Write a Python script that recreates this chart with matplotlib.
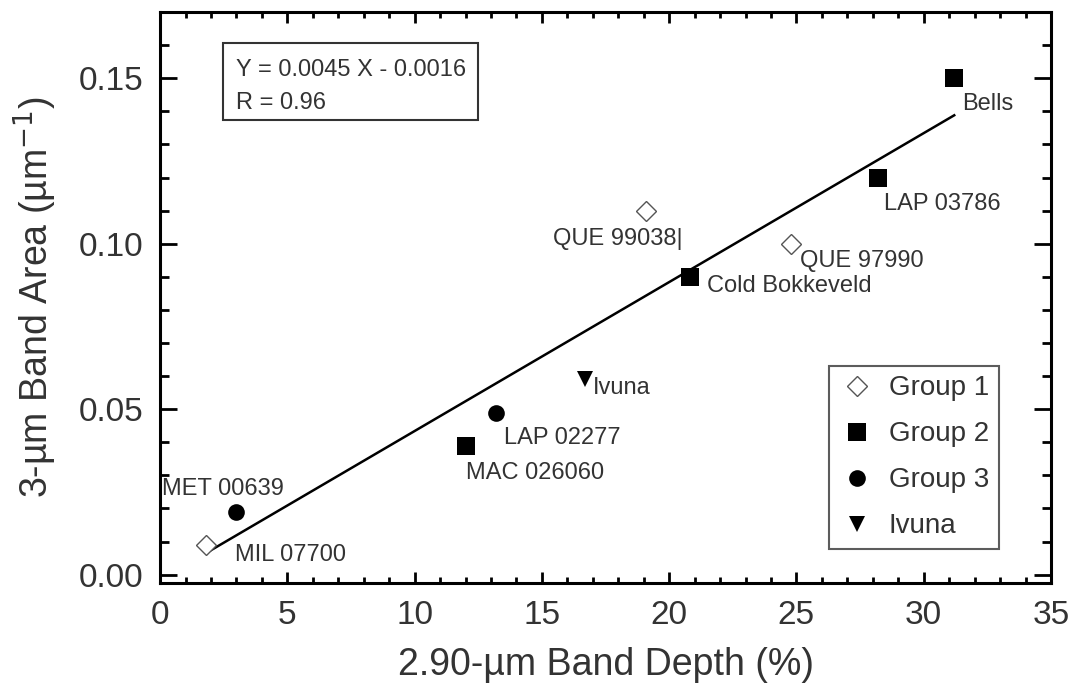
import matplotlib
matplotlib.use("Agg")
import matplotlib.pyplot as plt
from matplotlib.ticker import MultipleLocator, FormatStrFormatter
from matplotlib.patches import Rectangle
import numpy as np

plt.rcParams['font.family'] = ['Liberation Sans', 'DejaVu Sans']

# Band depth (%) vs band area (um^-1) per meteorite
names = ["MIL 07700", "MET 00639", "MAC 026060", "LAP 02277", "Ivuna",
         "QUE 99038", "Cold Bokkeveld", "QUE 97990", "LAP 03786", "Bells"]
groups = ["Group 1", "Group 3", "Group 2", "Group 3", "Ivuna",
          "Group 1", "Group 2", "Group 1", "Group 2", "Group 2"]
depth = [1.8, 3.0, 12.0, 13.2, 16.7, 19.1, 20.8, 24.8, 28.2, 31.2]
area = [0.009, 0.019, 0.039, 0.049, 0.059, 0.110, 0.090, 0.100, 0.120, 0.150]

# linear fit reported on the plot
slope = 0.0045
intercept = -0.0016
r_value = 0.96

# label offsets in pixels (dx, dy) relative to each point
label_offsets = [(29, -10), (-74, 23), (0, -27), (8, -25), (8, -9),
                 (-93, -28), (17, -9), (9, -17), (6, -26), (8, -26)]

styles = {
    "Group 1": dict(marker="D", ms=10.5, mfc="white", mec="#555555", mew=1.0),
    "Group 2": dict(marker="s", ms=13, mfc="black", mec="black", mew=0),
    "Group 3": dict(marker="o", ms=12, mfc="black", mec="black", mew=0),
    "Ivuna": dict(marker="v", ms=12, mfc="black", mec="black", mew=0),
}

fig = plt.figure(figsize=(10.91, 6.98), dpi=100)
ax = fig.add_axes([0.1467, 0.1648, 0.8166, 0.818])

# regression line across the data range
xf = np.array([min(depth), max(depth)])
ax.plot(xf, slope * xf + intercept, color="black", lw=1.8, zorder=2)

for g in ["Group 1", "Group 2", "Group 3", "Ivuna"]:
    xs = [d for d, gg in zip(depth, groups) if gg == g]
    ys = [a for a, gg in zip(area, groups) if gg == g]
    ax.plot(xs, ys, ls="none", label=g, zorder=3, **styles[g])

for n, x, y, (dx, dy) in zip(names, depth, area, label_offsets):
    txt = n + "|" if n == "QUE 99038" else n
    ax.annotate(txt, (x, y), xytext=(dx, dy), textcoords="offset pixels",
                ha="left", va="center", fontsize=17, color="#333333")

# fit equation box
ax.add_patch(Rectangle((0.0707, 0.811), 0.286, 0.135, transform=ax.transAxes,
                       fc="white", ec="#333333", lw=1.5, zorder=4))
ax.text(0.0853, 0.898, "Y = %.4f X - %.4f" % (slope, -intercept),
        transform=ax.transAxes, fontsize=17, color="#333333", va="center", zorder=5)
ax.text(0.0853, 0.841, "R = %.2f" % r_value,
        transform=ax.transAxes, fontsize=17, color="#333333", va="center", zorder=5)

ax.set_xlim(0, 35)
ax.set_ylim(-0.0025, 0.17)
ax.xaxis.set_major_locator(MultipleLocator(5))
ax.xaxis.set_minor_locator(MultipleLocator(1))
ax.yaxis.set_major_locator(MultipleLocator(0.05))
ax.yaxis.set_minor_locator(MultipleLocator(0.01))
ax.yaxis.set_major_formatter(FormatStrFormatter("%.2f"))

ax.tick_params(which="both", direction="in", top=True, right=True,
               width=2, colors="black", labelcolor="#333333")
ax.tick_params(which="major", labelsize=24, pad=12)
ax.tick_params(axis="x", which="major", length=8)
ax.tick_params(axis="x", which="minor", length=4.5)
ax.tick_params(axis="y", which="major", length=12)
ax.tick_params(axis="y", which="minor", length=6.5)
for s in ax.spines.values():
    s.set_linewidth(2.2)

ax.set_xlabel("2.90-µm Band Depth (%)", fontsize=27, color="#333333", labelpad=12)
ax.set_ylabel("3-µm Band Area (µm$^{-1}$)", fontsize=27, color="#333333", labelpad=14)

leg = ax.legend(loc="lower right", bbox_to_anchor=(0.9416, 0.0595), borderaxespad=0,
                fontsize=20, frameon=True, fancybox=False, edgecolor="#333333",
                handletextpad=0.5, labelspacing=0.72, borderpad=0.35,
                handlelength=1.3, labelcolor="#333333")
leg.get_frame().set_linewidth(1.5)

fig.savefig("out.png", dpi=100)
